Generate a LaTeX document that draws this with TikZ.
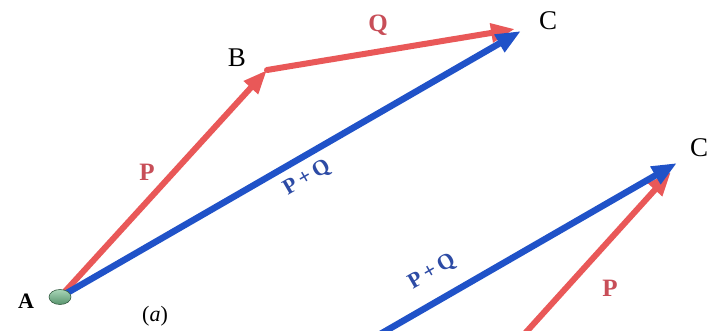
\documentclass[tikz,border=0pt]{standalone}
\usepackage{fontspec}
\setmainfont{Liberation Serif}
\usetikzlibrary{arrows.meta,shapes.geometric}
\definecolor{vred}{RGB}{233,88,88}
\definecolor{vblue}{RGB}{32,82,200}
\definecolor{tred}{RGB}{200,78,88}
\definecolor{tblue}{RGB}{45,75,165}
\definecolor{dotgreen}{RGB}{110,185,135}
\tikzset{
  redvec/.style={draw=vred, line width=6pt, -{Triangle[length=24pt,width=18pt]}},
  bluevec/.style={draw=vblue, line width=6.5pt, -{Triangle[length=25pt,width=19pt]}},
  ptlabel/.style={font=\fontsize{27}{29}\selectfont, text=black},
  redlabel/.style={font=\bfseries\fontsize{25}{28}\selectfont, text=tred},
  bluelabel/.style={font=\bfseries\fontsize{22}{26}\selectfont, text=tblue, rotate=30},
}
\begin{document}
\begin{tikzpicture}[x=1pt,y=-1pt]
\useasboundingbox (0,0) rectangle (722,331);
\clip (0,0) rectangle (722,331);
\fill[white] (0,0) rectangle (722,331);
% points
\coordinate (A0) at (60,297);
\coordinate (B) at (267,70);
\coordinate (C1r) at (515,29);
\coordinate (C1) at (521,31);
\coordinate (C2) at (677,163);
\coordinate (C2r) at (671,172);
\coordinate (S2b) at (370,340);
\coordinate (S2r) at (519,340);
% diagram (a)
\draw[redvec] (A0) -- (B);
\draw[redvec, line cap=round] (B) -- (C1r);
\draw[bluevec] (A0) -- (C1);
\node[draw=dotgreen!50!black, line width=0.6pt, ellipse, minimum width=22pt, minimum height=15pt, inner sep=0pt, top color=dotgreen!60!white, bottom color=dotgreen!80!black] (A) at (A0) {};
% diagram (b)
\draw[redvec] (S2r) -- (C2r);
\draw[bluevec] (S2b) -- (C2);
% labels
\node[font=\bfseries\fontsize{22}{24}\selectfont] (lA) at (26,301) {A};
\node[ptlabel] (lB) at (237,58) {B};
\node[ptlabel] (lC1) at (548,21) {C};
\node[ptlabel] (lC2) at (699,148) {C};
\node[font=\fontsize{22}{24}\selectfont] (la) at (155,316) {(\textit{a})};
\node[redlabel] (lQ) at (378,25) {Q};
\node[redlabel] (lP1) at (147,172) {P};
\node[redlabel] (lP2) at (610,288) {P};
\node[bluelabel] (lPQ1) at (307,178) {P\,+\,Q};
\node[bluelabel] (lPQ2) at (432,272) {P\,+\,Q};
\end{tikzpicture}
\end{document}
